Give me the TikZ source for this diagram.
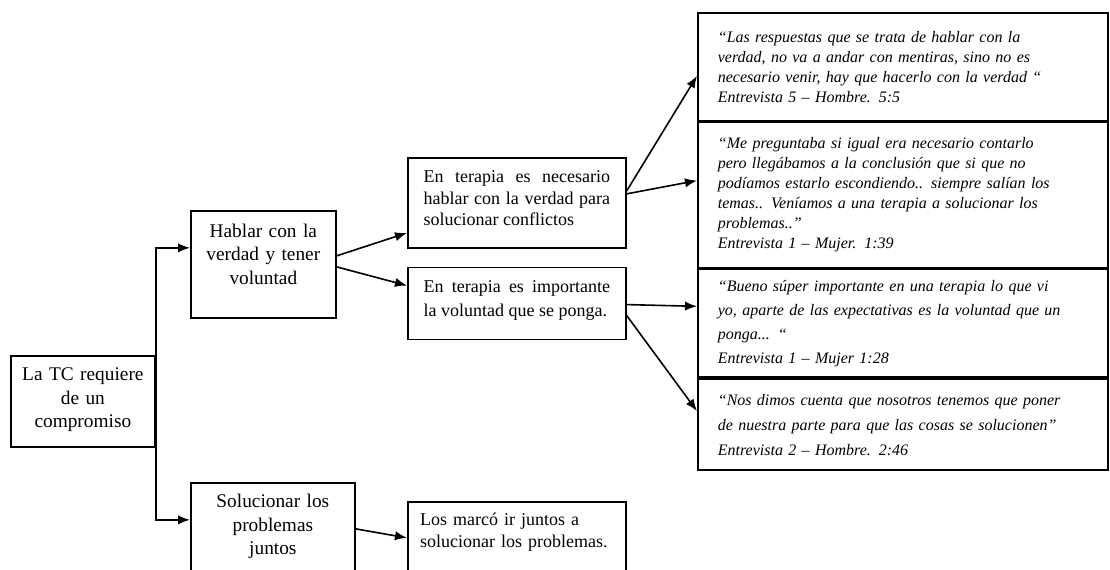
\documentclass[tikz,border=0pt]{standalone}
\usepackage{fontspec}
\setmainfont{Liberation Serif}
\usetikzlibrary{positioning, arrows.meta}

\begin{document}
\begin{tikzpicture}[
    caja/.style={draw, line width=1.3pt, anchor=north west, inner xsep=4pt, inner ysep=3pt,
                 align=center, font=\fontsize{14.5}{17.6}\selectfont},
    texto/.style={caja, inner xsep=11.75pt, text width=140pt, font=\fontsize{13.5}{16}\selectfont},
    cita/.style={caja, inner xsep=15pt, text width=277.5pt, align=left, font=\fontsize{12}{15}\selectfont\itshape},
    flecha/.style={-{Latex[length=9pt,width=7pt]}, line width=1.2pt}
  ]
                                \useasboundingbox (0,0) rectangle (832.5pt,-427.5pt);
                                \clip (0,0) rectangle (832.5pt,-427.5pt);

                                % cajas
                                \node [caja, text width=100pt, minimum height=68.25pt, text depth=40.5pt] (tc) at (7.5pt,-266.25pt) {La TC requiere\\de un\\compromiso};
                                \node [caja, text width=100.75pt, minimum height=80.25pt, text depth=51pt] (hablar) at (142.5pt,-157.5pt) {Hablar con la\\verdad y tener\\voluntad};
                                \node [caja, text width=115pt, minimum height=90pt, text depth=62.5pt] (soluc) at (142.5pt,-361.5pt) {Solucionar los\\problemas\\juntos};
                                \node [texto, align=justify, minimum height=67.5pt, text depth=39pt] (verdad) at (305.25pt,-117.75pt) {En terapia es necesario\linebreak hablar con la verdad para\linebreak solucionar conflictos};
                                \node [texto, align=justify, minimum height=54pt, text depth=25pt, font=\fontsize{13.5}{18}\selectfont] (voluntad) [below=13.5pt of verdad] {En terapia es importante\linebreak la voluntad que se ponga.};
                                \node [texto, align=left, inner xsep=9.25pt, text width=145pt, minimum height=75pt, text depth=49pt, font=\fontsize{13.5}{16.5}\selectfont] (juntos) at (305.25pt,-375.75pt) {Los marcó ir juntos a\\solucionar los problemas.};

                                % citas
                                \node [cita, minimum height=81pt] (cita1) at (522.75pt,-9pt) {“Las respuestas que se trata de hablar con la\\verdad, no va a andar con mentiras, sino no es\\necesario venir,  hay que hacerlo con la verdad “\\Entrevista 5 – Hombre. 5:5};
                                \node [cita, minimum height=108.75pt] (cita2) [below=0pt of cita1] {“Me preguntaba si igual era necesario contarlo\\pero llegábamos a la conclusión que si que no\\podíamos estarlo escondiendo.. siempre salían los\\temas.. Veníamos a una terapia a solucionar los\\problemas..”\\Entrevista 1 – Mujer. 1:39};
                                \node [cita, minimum height=81pt, font=\fontsize{12}{18}\selectfont\itshape] (cita3) [below=0pt of cita2] {“Bueno súper importante en una terapia lo que vi\\yo, aparte de las expectativas es la voluntad que un\\ponga... “\\Entrevista 1 – Mujer 1:28};
                                \node [cita, minimum height=68.25pt, font=\fontsize{12}{18.75}\selectfont\itshape] (cita4) [below=0pt of cita3] {“Nos dimos cuenta que nosotros tenemos que poner\\de nuestra parte para que las cosas se solucionen”\\Entrevista 2 – Hombre. 2:46};

                                % flechas
                                \draw [flecha] (tc.east) |- ([yshift=12.4pt]hablar.west);
                                \draw [flecha] (tc.east) |- ([yshift=17.25pt]soluc.west);
                                \path [flecha]
                                ([yshift=6.4pt]hablar.east) edge ([yshift=-22.5pt]verdad.west)
                                ([yshift=-1.9pt]hablar.east) edge ([yshift=13.5pt]voluntad.west)
                                ([yshift=10.5pt]soluc.east) edge ([yshift=10.5pt]juntos.west)
                                ([yshift=9pt]verdad.east) edge ([yshift=-6.75pt]cita1.west)
                                ([yshift=6.75pt]verdad.east) edge ([yshift=10.9pt]cita2.west)
                                ([yshift=-0.75pt]voluntad.east) edge ([yshift=12.75pt]cita3.west)
                                ([yshift=-9pt]voluntad.east) edge ([yshift=10.1pt]cita4.west);
                            \end{tikzpicture}
\end{document}
